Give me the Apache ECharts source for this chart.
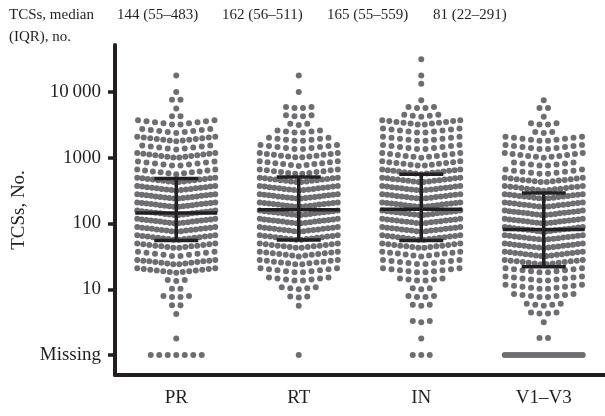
<!DOCTYPE html>
<html>
<head>
<meta charset="utf-8">
<script src="https://cdn.jsdelivr.net/npm/echarts@6/dist/echarts.min.js"></script>
<style>
  html, body { margin: 0; padding: 0; background: #fff; }
  #chart { width: 605px; height: 416px; }
</style>
</head>
<body>
<div id="chart"></div>
<script>
// groups
let categories = ['PR', 'RT', 'IN', 'V1–V3'];

// median and IQR of TCSs per group
let medians = [144, 162, 165, 81];
let q1s = [55, 56, 55, 22];
let q3s = [483, 511, 559, 291];

// y tick labels, placed at log10 positions 0..4 (0 = missing)
let tickPos = [0, 1, 2, 3, 4];
let tickLabels = ['Missing', '10', '100', '1000', '10\u2009000'];

// rows of the dot plot: log10(TCSs) of each row
let rowLog = [0.25, 0.375, 0.5, 0.625, 0.75, 0.875, 1.0, 1.125, 1.25, 1.375,
  1.5, 1.625, 1.75, 1.875, 2.0, 2.125, 2.25, 2.375, 2.5, 2.625,
  2.75, 2.875, 3.0, 3.125, 3.25, 3.375, 3.5, 3.625, 3.75, 3.875,
  4.0, 4.125, 4.25, 4.375, 4.5];

// number of patients in each row, per group
let prCounts = [1, 0, 0, 1, 2, 4, 2, 3, 13, 14,
  10, 14, 16, 17, 18, 18, 18, 18, 17, 16,
  11, 10, 14, 9, 13, 9, 10, 2, 1, 2,
  1, 0, 1, 0, 0];
let rtCounts = [0, 0, 0, 0, 1, 3, 5, 8, 10, 12,
  13, 14, 16, 17, 18, 18, 18, 18, 17, 16,
  12, 11, 12, 10, 8, 6, 3, 4, 4, 0,
  1, 0, 1, 0, 0];
let inCounts = [1, 0, 3, 0, 3, 4, 3, 6, 10, 10,
  11, 14, 16, 17, 17, 18, 18, 17, 17, 16,
  15, 12, 11, 10, 10, 10, 12, 5, 4, 1,
  0, 1, 1, 0, 1];
let v13Counts = [2, 0, 1, 4, 5, 8, 10, 10, 10, 14,
  16, 17, 17, 18, 18, 18, 17, 17, 15, 14,
  10, 8, 11, 10, 10, 3, 4, 1, 2, 1,
  0, 0, 0, 0, 0];
let missingCounts = [7, 1, 3, 30];

let allCounts = [prCounts, rtCounts, inCounts, v13Counts];

let textColor = '#231f20';
let dotColor = '#6e6e72';
let serif = '"Liberation Serif", "DejaVu Serif", serif';

// lay out each row as a swarm centred on its group
let dotGap = 8.5, halfWidth = 39, tilt = 0.12;
function swarm(g, logv, n, slope, out) {
  if (!n) return;
  let gap = n > 1 ? Math.min(dotGap, 2 * halfWidth / (n - 1)) : 0;
  for (let j = 0; j < n; j++) {
    let dx = (j - (n - 1) / 2) * gap;
    out.push({ value: [g, logv], symbolOffset: [dx, -slope * Math.abs(dx)] });
  }
}
let dots = [];
allCounts.forEach(function (counts, g) {
  counts.forEach(function (n, k) { swarm(g, rowLog[k], n, tilt, dots); });
  swarm(g, 0, missingCounts[g], 0, dots);
});

let summary = categories.map(function (c, i) {
  return [i, Math.log10(medians[i]), Math.log10(q1s[i]), Math.log10(q3s[i])];
});

let headerX = [117, 222, 327, 433];
let headerTexts = [
  { type: 'text', left: 9, top: 8, style: { text: 'TCSs, median', font: '15px ' + serif, fill: textColor } },
  { type: 'text', left: 9, top: 30, style: { text: '(IQR), no.', font: '15px ' + serif, fill: textColor } }
];
categories.forEach(function (c, i) {
  headerTexts.push({
    type: 'text', left: headerX[i], top: 8,
    style: { text: medians[i] + ' (' + q1s[i] + '–' + q3s[i] + ')', font: '15px ' + serif, fill: textColor }
  });
});

let myChart = echarts.init(document.getElementById('chart'));
let option = {
  backgroundColor: '#fff',
  animation: false,
  graphic: headerTexts,
  grid: { left: 115, right: 0, top: 45, bottom: 41, outerBoundsMode: 'none' },
  xAxis: {
    type: 'category',
    data: categories,
    axisLine: { onZero: false, lineStyle: { color: textColor, width: 4 } },
    axisTick: { alignWithLabel: true, length: 7, lineStyle: { color: textColor, width: 3.5 } },
    axisLabel: { margin: 14, color: textColor, fontFamily: serif, fontSize: 19 },
    splitLine: { show: false }
  },
  yAxis: {
    type: 'value',
    min: -0.304,
    max: 4.715,
    name: 'TCSs, No.',
    nameLocation: 'middle',
    nameGap: 82,
    nameTextStyle: { color: textColor, fontFamily: serif, fontSize: 19 },
    axisLine: { show: true, lineStyle: { color: textColor, width: 4 } },
    axisTick: { show: true, customValues: tickPos, length: 7, lineStyle: { color: textColor, width: 3.5 } },
    axisLabel: {
      customValues: tickPos, margin: 14, color: textColor, fontFamily: serif, fontSize: 19,
      formatter: function (v) { return tickLabels[tickPos.indexOf(Math.round(v))]; }
    },
    splitLine: { show: false }
  },
  series: [
    {
      type: 'scatter',
      data: dots,
      symbolSize: 6,
      itemStyle: { color: dotColor, opacity: 1 },
      silent: true
    },
    {
      type: 'custom',
      data: summary,
      z: 5,
      renderItem: function (params, api) {
        let m = api.coord([api.value(0), api.value(1)]);
        let lo = api.coord([api.value(0), api.value(2)]);
        let hi = api.coord([api.value(0), api.value(3)]);
        let style = { stroke: textColor, lineWidth: 3.5 };
        return {
          type: 'group',
          children: [
            { type: 'line', shape: { x1: m[0] - 41, y1: m[1], x2: m[0] + 41, y2: m[1] }, style: style },
            { type: 'line', shape: { x1: hi[0] - 22, y1: hi[1], x2: hi[0] + 22, y2: hi[1] }, style: style },
            { type: 'line', shape: { x1: lo[0] - 22, y1: lo[1], x2: lo[0] + 22, y2: lo[1] }, style: style },
            { type: 'line', shape: { x1: hi[0], y1: hi[1], x2: lo[0], y2: lo[1] }, style: style }
          ]
        };
      }
    }
  ]
};
myChart.setOption(option, true);
</script>
</body>
</html>
